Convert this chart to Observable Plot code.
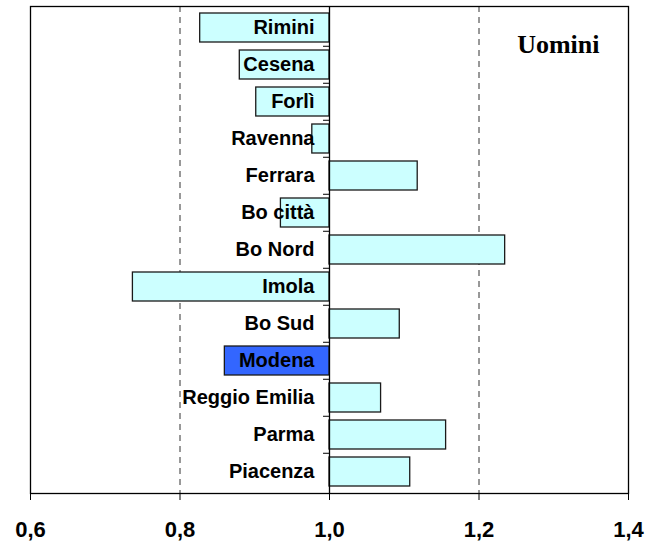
<!DOCTYPE html>
<html>
<head>
<meta charset="utf-8">
<script src="https://cdn.jsdelivr.net/npm/d3@7"></script>
<script src="https://cdn.jsdelivr.net/npm/@observablehq/plot@0.6"></script>
<style>
  html, body { margin: 0; padding: 0; background: #fff; }
  #chart svg { display: block; }
</style>
</head>
<body>
<div id="chart"></div>
<script>
const regions = ["Rimini","Cesena","Forlì","Ravenna","Ferrara","Bo città","Bo Nord","Imola","Bo Sud","Modena","Reggio Emilia","Parma","Piacenza"];
const values  = [0.827, 0.880, 0.902, 0.977, 1.118, 0.935, 1.235, 0.737, 1.094, 0.860, 1.069, 1.156, 1.108];
const highlight = "Modena";
const xTicks = [0.6, 0.8, 1.0, 1.2, 1.4];
const gridLines = [0.8, 1.2];
const baseline = 1.0;
const title = "Uomini";

const data = regions.map((r, i) => ({region: r, value: values[i]}));

const W = 668, H = 542;
const mTop = 6, mBottom = 49, mLeft = 30, mRight = 40;
const pInner = 0.22, pOuter = 0.11;
const step = (H - mTop - mBottom) / (regions.length - pInner + 2 * pOuter);

const chart = Plot.plot({
  width: W,
  height: H,
  marginTop: mTop,
  marginBottom: mBottom,
  marginLeft: mLeft,
  marginRight: mRight,
  style: {fontFamily: "'Liberation Sans', Arial, sans-serif", background: "#fff", color: "#000"},
  x: {domain: [0.6, 1.4], axis: null, label: null},
  y: {domain: regions, paddingInner: pInner, paddingOuter: pOuter, axis: null, label: null},
  marks: [
    Plot.ruleX(gridLines, {stroke: "#333", strokeWidth: 1, strokeDasharray: "6,5"}),
    Plot.barX(data, {
      y: "region",
      x1: baseline,
      x2: "value",
      fill: d => d.region === highlight ? "#3366FF" : "#CCFFFF",
      stroke: "#1a1a1a",
      strokeWidth: 1.3
    }),
    Plot.ruleY(regions.slice(1), {y: d => d, x1: 0.992, x2: baseline, dy: -step / 2, stroke: "#000", strokeWidth: 1}),
    Plot.ruleX([baseline], {stroke: "#000", strokeWidth: 1.3}),
    Plot.text(data, {
      y: "region",
      x: baseline,
      text: "region",
      dx: -15,
      textAnchor: "end",
      fontSize: 20,
      fontWeight: "bold",
      fill: "#000"
    }),
    Plot.frame({stroke: "#000", strokeWidth: 1.3}),
    Plot.axisX({
      ticks: xTicks,
      tickFormat: d => d.toFixed(1).replace(".", ","),
      tickSize: 7,
      tickPadding: 21,
      fontSize: 22,
      fontWeight: "bold",
      stroke: "#000",
      fill: "#000",
      label: null
    }),
    Plot.text([title], {
      frameAnchor: "top-right",
      dx: -29,
      dy: 38,
      textAnchor: "end",
      lineAnchor: "middle",
      fontSize: 26,
      fontWeight: "bold",
      fontFamily: "'Liberation Serif', 'Times New Roman', serif",
      fill: "#000"
    })
  ]
});

document.getElementById("chart").appendChild(chart);
</script>
</body>
</html>
